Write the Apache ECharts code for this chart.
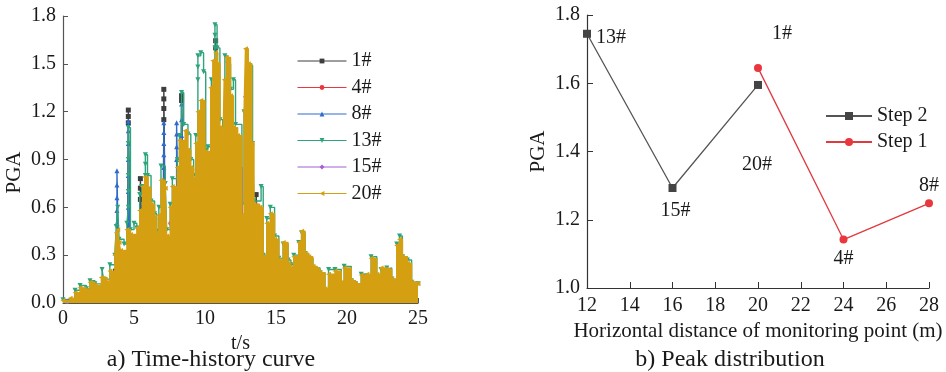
<!DOCTYPE html>
<html>
<head>
<meta charset="utf-8">
<script src="https://cdn.jsdelivr.net/npm/echarts@6/dist/echarts.min.js"></script>
<style>
  html, body { margin: 0; padding: 0; background: #fff; }
  #chart { width: 946px; height: 372px; }
</style>
</head>
<body>
<div id="chart"></div>
<script>
// ---- a) time-history of PGA at each monitoring point: [t (s), PGA] breakpoints ----
const pga1 = [[0.3,0.01],[1,0.04],[2,0.07],[3,0.09],[3.7,0.2],[4.55,0.3],[4.6,1.13],[4.6,1.17],[4.6,1.21],[4.7,0.35],[5.4,0.4],[5.45,0.65],[5.45,0.72],[5.45,0.78],[5.55,0.4],[7.05,0.4],[7.1,1.15],[7.1,1.22],[7.1,1.28],[7.1,1.34],[7.2,0.4],[8.3,0.6],[8.35,1.27],[8.35,1.3],[8.45,0.7],[10.7,0.85],[10.75,1.6],[10.75,1.645],[10.85,0.85],[12.6,0.5],[13.6,0.68],[13.7,0.5],[14.0,0.25],[15,0.2],[16,0.15],[18,0.08],[24.5,0.08]];
const pga4 = [[0.3,0.01],[1,0.04],[2,0.07],[3,0.09],[4,0.2],[5,0.3],[6.6,0.4],[7.6,0.5],[10,0.8],[11.5,1.142],[11.6,0.85],[12.6,0.5],[14,0.25],[15,0.2],[16,0.15],[18,0.08],[24.5,0.08]];
const pga8 = [[0.3,0.01],[1,0.04],[2,0.07],[3,0.09],[3.75,0.2],[3.8,0.5],[3.8,0.58],[3.8,0.66],[3.8,0.74],[3.8,0.83],[3.9,0.3],[4.6,0.6],[4.6,0.7],[4.6,0.8],[4.6,0.9],[4.6,1.0],[4.6,1.08],[4.6,1.14],[4.7,0.35],[7.1,0.85],[7.1,0.93],[7.1,1.0],[7.1,1.07],[7.1,1.13],[7.2,0.4],[8.0,0.9],[8.0,0.98],[8.0,1.06],[8.0,1.13],[8.1,0.6],[8.35,1.05],[8.35,1.15],[8.35,1.248],[8.45,0.7],[10,0.8],[11.2,0.8],[12.6,0.5],[14,0.25],[15,0.2],[16,0.15],[18,0.08],[24.5,0.08]];
const pga13 = [[0,0.02],[0.85,0.08],[1.2,0.11],[1.65,0.09],[1.9,0.14],[2.25,0.12],[2.75,0.21],[2.85,0.15],[3.3,0.24],[3.65,0.3],[3.75,0.48],[3.85,0.6],[3.95,0.4],[4.3,0.37],[4.5,0.5],[4.6,0.6],[4.6,0.7],[4.6,0.8],[4.6,0.9],[4.6,1.0],[4.6,1.1],[4.75,0.46],[5.0,0.5],[5.2,0.47],[5.4,0.68],[5.55,0.73],[5.8,0.8],[5.8,0.87],[5.8,0.93],[5.95,0.8],[6.2,0.64],[6.45,0.56],[6.6,0.45],[6.75,0.6],[6.9,0.86],[7.2,0.75],[7.3,0.46],[7.55,0.62],[7.7,0.78],[8.05,0.9],[8.2,1.05],[8.35,1.32],[8.5,1.12],[8.8,1.06],[9.0,0.9],[9.2,0.8],[9.35,1.05],[9.5,1.4],[9.5,1.48],[9.5,1.55],[9.7,1.57],[9.9,1.45],[10.05,0.96],[10.2,0.98],[10.45,1.4],[10.7,1.6],[10.7,1.68],[10.7,1.745],[10.85,1.6],[11.05,1.15],[11.25,0.95],[11.4,1.55],[11.6,1.5],[11.8,1.34],[12.0,1.4],[12.15,1.12],[12.6,0.62],[12.75,1.2],[13.15,1.49],[13.35,1.0],[13.45,0.64],[13.95,0.73],[14.1,0.3],[14.35,0.53],[14.6,0.6],[14.9,0.42],[15.2,0.28],[15.5,0.37],[15.85,0.27],[16.05,0.24],[16.25,0.3],[16.6,0.38],[16.8,0.44],[17.05,0.31],[17.3,0.28],[17.6,0.22],[18.1,0.19],[18.45,0.08],[18.7,0.21],[19.15,0.21],[19.6,0.12],[19.8,0.23],[20.3,0.14],[20.6,0.12],[21.0,0.18],[21.4,0.17],[21.7,0.29],[22.1,0.17],[22.4,0.21],[22.8,0.22],[23.15,0.15],[23.5,0.37],[23.7,0.42],[23.9,0.29],[24.25,0.27],[24.55,0.13],[25.0,0.12]];
const pga15 = [[0.3,0.01],[1,0.04],[2,0.07],[3,0.09],[4,0.2],[5,0.3],[6.6,0.4],[7.6,0.5],[10,0.8],[11.25,0.85],[12.6,0.5],[12.85,1.293],[13.0,0.5],[14,0.25],[15,0.2],[16,0.15],[18,0.08],[24.5,0.08]];
const pga20 = [[0,0.015],[0.5,0.03],[0.85,0.065],[1.2,0.095],[1.65,0.08],[1.9,0.13],[2.25,0.11],[2.7,0.16],[3.1,0.13],[3.3,0.2],[3.65,0.3],[3.75,0.44],[3.85,0.46],[3.95,0.38],[4.05,0.33],[4.5,0.46],[4.75,0.43],[5.2,0.47],[5.4,0.58],[5.6,0.73],[5.75,0.79],[6.0,0.72],[6.2,0.62],[6.45,0.54],[6.6,0.44],[6.75,0.55],[6.9,0.77],[7.2,0.72],[7.3,0.42],[7.55,0.6],[7.7,0.73],[8.05,0.85],[8.2,1.02],[8.6,1.08],[8.8,0.96],[9.0,0.85],[9.2,0.78],[9.35,1.0],[9.5,1.2],[9.7,1.27],[10.0,0.95],[10.4,1.35],[10.55,1.52],[10.75,1.57],[10.9,1.5],[11.05,1.1],[11.25,0.92],[11.35,1.4],[11.5,1.54],[11.8,1.3],[12.0,1.1],[12.3,1.05],[12.6,0.55],[12.75,1.2],[12.85,1.595],[13.05,1.5],[13.3,1.0],[13.45,0.62],[13.85,0.6],[14.1,0.29],[14.35,0.5],[14.6,0.56],[14.9,0.4],[15.2,0.27],[15.5,0.38],[15.85,0.25],[16.05,0.22],[16.25,0.29],[16.6,0.38],[16.8,0.45],[17.05,0.31],[17.3,0.29],[17.6,0.23],[17.9,0.21],[18.1,0.19],[18.45,0.09],[18.7,0.18],[19.15,0.2],[19.6,0.13],[19.8,0.22],[20.3,0.14],[20.6,0.12],[21.0,0.175],[21.4,0.18],[21.7,0.28],[22.1,0.18],[22.4,0.22],[22.8,0.21],[23.15,0.15],[23.5,0.36],[23.7,0.4],[23.9,0.29],[24.25,0.25],[24.55,0.13],[25.0,0.12]];

const pointNames = ['1#', '4#', '8#', '13#', '15#', '20#'];

// ---- b) peak PGA against horizontal distance of the monitoring point ----
const distStep2 = [12, 16, 20];
const peakStep2 = [1.745, 1.293, 1.595];
const nameStep2 = ['13#', '15#', '20#'];
const distStep1 = [20, 24, 28];
const peakStep1 = [1.645, 1.142, 1.248];
const nameStep1 = ['1#', '4#', '8#'];

const FONT = "'Liberation Serif', 'Times New Roman', serif";
const INK = '#1a1a1a';

const histories = [pga1, pga4, pga8, pga13, pga15, pga20];
const histColors = ['#3d3d3d', '#e8383d', '#2f6bcc', '#2ea37c', '#a45fd1', '#d4a012'];
const histSymbols = ['rect', 'circle', 'triangle', 'path://M0,0 L10,0 L5,10 Z', 'diamond', 'path://M10,0 L10,10 L0,5 Z'];

const historySeries = histories.map((d, i) => ({
  name: pointNames[i],
  type: 'line',
  xAxisIndex: 0,
  yAxisIndex: 0,
  step: 'end',
  data: d,
  symbol: histSymbols[i],
  symbolSize: 5,
  lineStyle: { width: 1.4, color: histColors[i] },
  itemStyle: { color: histColors[i] },
  areaStyle: i === 5 ? { color: histColors[i], opacity: 1 } : undefined,
  z: 2 + i
}));

// per-point label placement for the peak plot
const labelPlace2 = [
  { position: 'right', distance: 5, offset: [0, 4] },
  { position: 'bottom', distance: 9, offset: [3, 0] },
  { position: 'bottom', distance: 66, offset: [-1, 0] }
];
const labelPlace1 = [
  { position: 'top', distance: 5, offset: [24, -15] },
  { position: 'bottom', distance: 5, offset: [0, 0] },
  { position: 'top', distance: 4, offset: [0, 0] }
];

function peakData(xs, ys, names, places) {
  return xs.map((x, i) => ({
    value: [x, ys[i]],
    label: Object.assign({ show: true, formatter: names[i], color: INK, fontFamily: FONT, fontSize: 20 }, places[i])
  }));
}

const axisCommonLeft = {
  axisLine: { show: true, lineStyle: { color: '#555', width: 1.2 } },
  axisTick: { show: true, inside: true, length: 5, lineStyle: { color: '#555' } },
  splitLine: { show: false }
};
const axisCommonRight = {
  axisLine: { show: true, lineStyle: { color: '#333', width: 1.2 } },
  axisTick: { show: true, inside: true, length: 6, lineStyle: { color: '#333' } },
  splitLine: { show: false }
};

const chart = echarts.init(document.getElementById('chart'), null, { renderer: 'canvas' });
chart.setOption({
  animation: false,
  backgroundColor: '#fff',
  grid: [
    { left: 63, top: 16, width: 355, height: 287 },
    { left: 587, top: 15, width: 342, height: 273 }
  ],
  xAxis: [
    Object.assign({}, axisCommonLeft, {
      gridIndex: 0, type: 'value', min: 0, max: 25, interval: 5,
      name: 't/s', nameLocation: 'middle', nameGap: 23,
      nameTextStyle: { color: INK, fontFamily: FONT, fontSize: 20 },
      axisLabel: { color: INK, fontFamily: FONT, fontSize: 20, margin: 6 }
    }),
    Object.assign({}, axisCommonRight, {
      gridIndex: 1, type: 'value', min: 12, max: 28, interval: 2,
      name: 'Horizontal distance of monitoring point (m)', nameLocation: 'middle', nameGap: 30,
      nameTextStyle: { color: INK, fontFamily: FONT, fontSize: 21 },
      axisLabel: { color: INK, fontFamily: FONT, fontSize: 20, margin: 8 }
    })
  ],
  yAxis: [
    Object.assign({}, axisCommonLeft, {
      gridIndex: 0, type: 'value', min: 0, max: 1.8, interval: 0.3,
      name: 'PGA', nameLocation: 'middle', nameGap: 38,
      nameTextStyle: { color: INK, fontFamily: FONT, fontSize: 21, padding: [0, 26, 0, 0] },
      axisLabel: { color: INK, fontFamily: FONT, fontSize: 20, margin: 7, formatter: v => v.toFixed(1) }
    }),
    Object.assign({}, axisCommonRight, {
      gridIndex: 1, type: 'value', min: 1.0, max: 1.8, interval: 0.2,
      name: 'PGA', nameLocation: 'middle', nameGap: 38,
      nameTextStyle: { color: INK, fontFamily: FONT, fontSize: 21 },
      axisLabel: { color: INK, fontFamily: FONT, fontSize: 20, margin: 7, formatter: v => v.toFixed(1) }
    })
  ],
  legend: [
    {
      data: pointNames, orient: 'vertical', left: 292, top: 46,
      itemWidth: 49, itemHeight: 6, itemGap: 6.5,
      lineStyle: { width: 1 },
      textStyle: { color: INK, fontFamily: FONT, fontSize: 20 }
    },
    {
      data: ['Step 2', 'Step 1'], orient: 'vertical', left: 820, top: 101,
      itemWidth: 46, itemHeight: 10, itemGap: 6,
      textStyle: { color: INK, fontFamily: FONT, fontSize: 20 }
    }
  ],
  graphic: [
    { type: 'text', x: 211, y: 360, style: { text: 'a) Time-history curve', fill: INK, font: '24px ' + FONT, align: 'center', verticalAlign: 'middle' } },
    { type: 'text', x: 730, y: 360, style: { text: 'b) Peak distribution', fill: INK, font: '24px ' + FONT, align: 'center', verticalAlign: 'middle' } }
  ],
  series: historySeries.concat([
    {
      name: 'Step 2', type: 'line', xAxisIndex: 1, yAxisIndex: 1,
      data: peakData(distStep2, peakStep2, nameStep2, labelPlace2),
      symbol: 'rect', symbolSize: 8,
      lineStyle: { color: '#555', width: 1.3 },
      itemStyle: { color: '#444' }
    },
    {
      name: 'Step 1', type: 'line', xAxisIndex: 1, yAxisIndex: 1,
      data: peakData(distStep1, peakStep1, nameStep1, labelPlace1),
      symbol: 'circle', symbolSize: 8,
      lineStyle: { color: '#e0393e', width: 1.3 },
      itemStyle: { color: '#e8383d' }
    }
  ])
});
</script>
</body>
</html>
